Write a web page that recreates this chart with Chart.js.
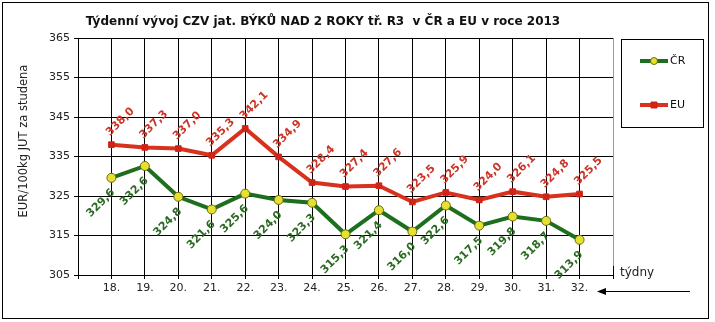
<!DOCTYPE html>
<html>
<head>
<meta charset="utf-8">
<script src="https://cdn.jsdelivr.net/npm/chart.js@4/dist/chart.umd.min.js"></script>
<style>
  html, body { margin: 0; padding: 0; background: #fff; }
  #wrap { width: 715px; height: 322px; position: relative; }
</style>
</head>
<body>
<div id="wrap"><canvas id="chart" width="715" height="322"></canvas></div>
<script>
const weeks = ['18.', '19.', '20.', '21.', '22.', '23.', '24.', '25.', '26.', '27.', '28.', '29.', '30.', '31.', '32.'];
const crValues = [329.6, 332.6, 324.8, 321.6, 325.6, 324.0, 323.3, 315.3, 321.4, 316.0, 322.6, 317.5, 319.8, 318.7, 313.9];
const euValues = [338.0, 337.3, 337.0, 335.3, 342.1, 334.9, 328.4, 327.4, 327.6, 323.5, 325.9, 324.0, 326.1, 324.8, 325.5];
const yTicks = [305, 315, 325, 335, 345, 355, 365];

const FONT = '"DejaVu Sans", Verdana, sans-serif';
const GREEN = '#1d6e1d';
const RED = '#d8321e';

// empty slot on each side of the week axis
const labels = [''].concat(weeks, ['']);
const pad = (arr) => [null].concat(arr, [null]);
const lastIdx = labels.length - 1;

// values written along the points, rotated
const valueLabels = {
    id: 'valueLabels',
    afterDatasetsDraw(chart) {
        const c = chart.ctx;
        chart.data.datasets.forEach((ds, i) => {
            const meta = chart.getDatasetMeta(i);
            meta.data.forEach((pt, j) => {
                const v = ds.data[j];
                if (v === null) return;
                const txt = v.toFixed(1).replace('.', ',');
                c.save();
                c.translate(pt.x, pt.y);
                c.rotate(-Math.PI / 4);
                c.font = 'bold 11px ' + FONT;
                c.fillStyle = ds.labelColor;
                if (ds.labelAbove) {
                    c.textAlign = 'left';
                    c.textBaseline = 'alphabetic';
                    c.fillText(txt, 5, -7);
                } else {
                    c.textAlign = 'right';
                    c.textBaseline = 'top';
                    c.fillText(txt, -8, 5);
                }
                c.restore();
            });
        });
    }
};

// title, axis title, legend box, arrow and frame
const decor = {
    id: 'decor',
    beforeDatasetsDraw(chart) {
        const c = chart.ctx;
        const a = chart.chartArea;
        c.save();
        c.strokeStyle = '#9a9a9a';
        c.lineWidth = 1;
        c.beginPath();
        c.moveTo(Math.round(a.right) + 0.5, a.top);
        c.lineTo(Math.round(a.right) + 0.5, a.bottom);
        c.stroke();
        c.strokeStyle = '#000';
        c.beginPath();
        c.moveTo(Math.round(a.right) + 0.5, a.bottom - 9);
        c.lineTo(Math.round(a.right) + 0.5, a.bottom + 4);
        c.stroke();
        c.restore();
    },
    afterDraw(chart) {
        const c = chart.ctx;
        const a = chart.chartArea;
        c.save();
        // outer frame
        c.strokeStyle = '#000';
        c.lineWidth = 1;
        c.strokeRect(2.5, 2.5, 706, 316);

        // title
        c.fillStyle = '#111';
        c.font = 'bold 12px ' + FONT;
        c.textAlign = 'center';
        c.textBaseline = 'middle';
        c.fillText('Týdenní vývoj CZV jat. BÝKŮ NAD 2 ROKY tř. R3  v ČR a EU v roce 2013', 323, 22);

        // y axis title
        c.save();
        c.translate(24, 141);
        c.rotate(-Math.PI / 2);
        c.font = '11.5px ' + FONT;
        c.fillStyle = '#222';
        c.fillText('EUR/100kg JUT za studena', 0, 0);
        c.restore();

        // x axis note and arrow
        c.font = '12px ' + FONT;
        c.textAlign = 'left';
        c.fillStyle = '#222';
        c.fillText('týdny', 620, 273);
        c.strokeStyle = '#000';
        c.beginPath();
        c.moveTo(690, 291.5);
        c.lineTo(603, 291.5);
        c.stroke();
        c.fillStyle = '#000';
        c.beginPath();
        c.moveTo(597, 291.5);
        c.lineTo(606, 288);
        c.lineTo(606, 295);
        c.closePath();
        c.fill();

        // legend
        c.strokeStyle = '#000';
        c.strokeRect(621.5, 39.5, 82, 88);
        c.font = '11px ' + FONT;
        c.textBaseline = 'middle';
        chart.data.datasets.forEach((ds, i) => {
            const y = 61 + i * 44;
            c.strokeStyle = ds.borderColor;
            c.lineWidth = 4;
            c.beginPath();
            c.moveTo(640, y);
            c.lineTo(668, y);
            c.stroke();
            c.lineWidth = 1;
            c.fillStyle = ds.pointBackgroundColor;
            c.strokeStyle = ds.pointBorderColor;
            c.beginPath();
            if (ds.pointStyle === 'circle') {
                c.arc(654, y, 3.5, 0, Math.PI * 2);
            } else {
                c.rect(651, y - 3, 6, 6);
            }
            c.fill();
            c.stroke();
            c.fillStyle = '#111';
            c.fillText(ds.label, 670, y);
        });
        c.restore();
    }
};

new Chart(document.getElementById('chart'), {
    type: 'line',
    data: {
        labels: labels,
        datasets: [
            {
                label: 'ČR',
                data: pad(crValues),
                borderColor: GREEN,
                borderWidth: 4,
                pointStyle: 'circle',
                pointRadius: 4.5,
                pointBackgroundColor: '#e6e030',
                pointBorderColor: '#6a6a10',
                pointBorderWidth: 1,
                labelColor: '#2a6a22',
                labelAbove: false,
                tension: 0,
            },
            {
                label: 'EU',
                data: pad(euValues),
                borderColor: RED,
                borderWidth: 4,
                pointStyle: 'rect',
                pointRadius: 4,
                pointBackgroundColor: '#d02418',
                pointBorderColor: '#d02418',
                pointBorderWidth: 1,
                labelColor: '#cc3526',
                labelAbove: true,
                tension: 0,
            },
        ],
    },
    options: {
        responsive: false,
        animation: false,
        layout: { padding: { left: 0, right: 102, top: 38, bottom: 0 } },
        plugins: {
            legend: { display: false },
            title: { display: false },
            tooltip: { enabled: false },
        },
        scales: {
            x: {
                afterFit: (s) => { s.height = 47; },
                grid: {
                    color: (ctx) => (ctx.index === 0 || ctx.index === lastIdx) ? 'rgba(0,0,0,0)' : '#000',
                    lineWidth: 1,
                    borderDash: [3, 2],
                    tickColor: '#000',
                    tickLength: 4,
                    tickBorderDash: [],
                },
                border: { display: true, color: '#000', width: 1 },
                ticks: {
                    autoSkip: false,
                    maxRotation: 0,
                    padding: 3,
                    color: '#222',
                    font: { family: FONT, size: 11 },
                },
            },
            y: {
                min: 305,
                max: 365,
                afterFit: (s) => { s.width = 78; },
                afterBuildTicks: (s) => { s.ticks = yTicks.map((v) => ({ value: v })); },
                grid: {
                    color: '#000',
                    lineWidth: 1,
                    borderDash: [3, 2],
                    tickColor: '#000',
                    tickLength: 4,
                    tickBorderDash: [],
                },
                border: { display: true, color: '#000', width: 1 },
                ticks: {
                    padding: 4,
                    color: '#222',
                    font: { family: FONT, size: 11 },
                },
            },
        },
    },
    plugins: [decor, valueLabels],
});
</script>
</body>
</html>
